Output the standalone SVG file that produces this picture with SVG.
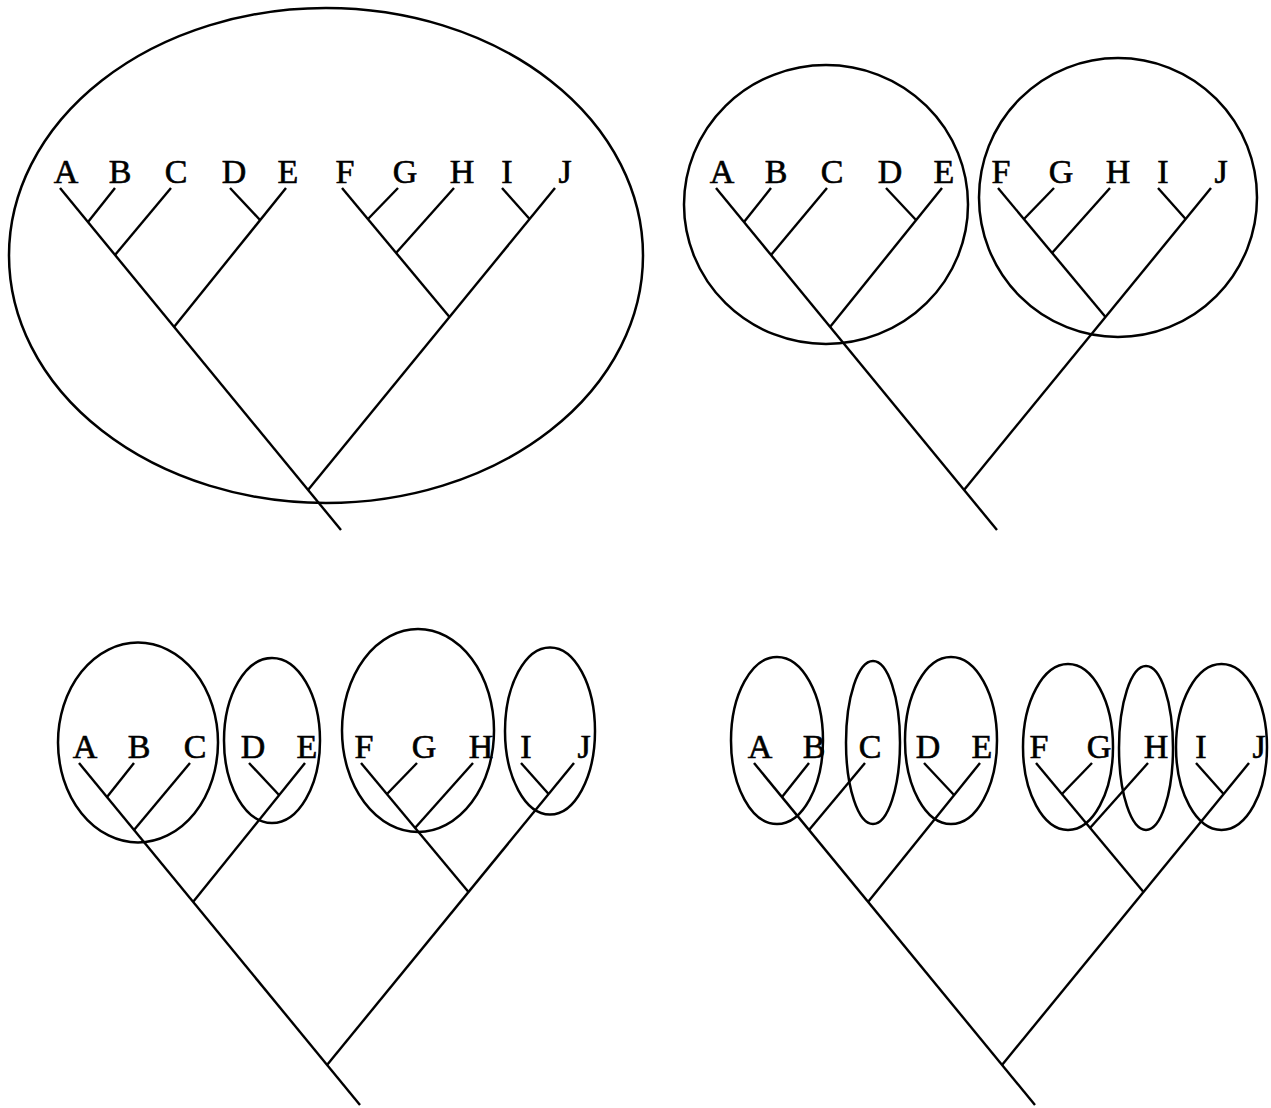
<svg xmlns="http://www.w3.org/2000/svg" width="1271" height="1108" viewBox="0 0 1271 1108">
<style>
.bg{fill:#fff}
.cl{fill:none;stroke:#000;stroke-width:2.5}
.br{fill:none;stroke:#000;stroke-width:2.4;stroke-linecap:butt}
.lb{font-family:"Liberation Serif","Times New Roman",serif;font-size:34px;fill:#000;stroke:#000;stroke-width:0.6;text-anchor:middle}
</style>
<rect class="bg" x="0" y="0" width="1271" height="1108"/>
<defs>
<g id="branches">
<path class="br" d="M60,188 L341,530"/>
<path class="br" d="M115,188 L88,222"/>
<path class="br" d="M171,188 L115,255"/>
<path class="br" d="M230,188 L260,220"/>
<path class="br" d="M286,188 L174,327"/>
<path class="br" d="M342,188 L449.5,317"/>
<path class="br" d="M398,188 L368,219"/>
<path class="br" d="M454,188 L396,253"/>
<path class="br" d="M502,188 L529.6,219"/>
<path class="br" d="M555,188 L308,490"/>
</g>
<g id="labels">
<text class="lb" x="66" y="183">A</text>
<text class="lb" x="120" y="183">B</text>
<text class="lb" x="176" y="183">C</text>
<text class="lb" x="234" y="183">D</text>
<text class="lb" x="288" y="183">E</text>
<text class="lb" x="345" y="183">F</text>
<text class="lb" x="405" y="183">G</text>
<text class="lb" x="462" y="183">H</text>
<text class="lb" x="507" y="183">I</text>
<text class="lb" x="565" y="183">J</text>
</g>
</defs>

<g id="panel1">
<g id="p1-clusters"><ellipse id="p1-ABCDEFGHIJ" class="cl" cx="326" cy="255.5" rx="317" ry="247.5"/></g>
<g id="p1-connectors"><use href="#branches"/></g>
<g id="p1-leaves"><use href="#labels"/></g>
</g>

<g id="panel2">
<g id="p2-clusters">
<ellipse id="p2-ABCDE" class="cl" cx="826" cy="204.5" rx="142" ry="139.5"/>
<ellipse id="p2-FGHIJ" class="cl" cx="1118" cy="197.5" rx="139" ry="139.5"/>
</g>
<g id="p2-connectors" transform="translate(656,0)"><use href="#branches"/></g>
<g id="p2-leaves" transform="translate(656,0)"><use href="#labels"/></g>
</g>

<g id="panel3">
<g id="p3-clusters">
<ellipse id="p3-ABC" class="cl" cx="138" cy="742.5" rx="80" ry="100"/>
<ellipse id="p3-DE" class="cl" cx="272" cy="740.5" rx="48" ry="82.5"/>
<ellipse id="p3-FGH" class="cl" cx="418" cy="730.5" rx="76" ry="101.5"/>
<ellipse id="p3-IJ" class="cl" cx="550" cy="731" rx="45" ry="83.5"/>
</g>
<g id="p3-connectors" transform="translate(19,575)"><use href="#branches"/></g>
<g id="p3-leaves" transform="translate(19,575)"><use href="#labels"/></g>
</g>

<g id="panel4">
<g id="p4-clusters">
<ellipse id="p4-AB" class="cl" cx="777" cy="740.5" rx="46" ry="83.5"/>
<ellipse id="p4-C" class="cl" cx="873" cy="742.5" rx="27" ry="81.5"/>
<ellipse id="p4-DE" class="cl" cx="951" cy="740.5" rx="46" ry="83.5"/>
<ellipse id="p4-FG" class="cl" cx="1068" cy="747" rx="45" ry="83"/>
<ellipse id="p4-H" class="cl" cx="1146" cy="748" rx="27" ry="82"/>
<ellipse id="p4-IJ" class="cl" cx="1221.5" cy="747" rx="45.5" ry="83"/>
</g>
<g id="p4-connectors" transform="translate(694,575)"><use href="#branches"/></g>
<g id="p4-leaves" transform="translate(694,575)"><use href="#labels"/></g>
</g>
</svg>
